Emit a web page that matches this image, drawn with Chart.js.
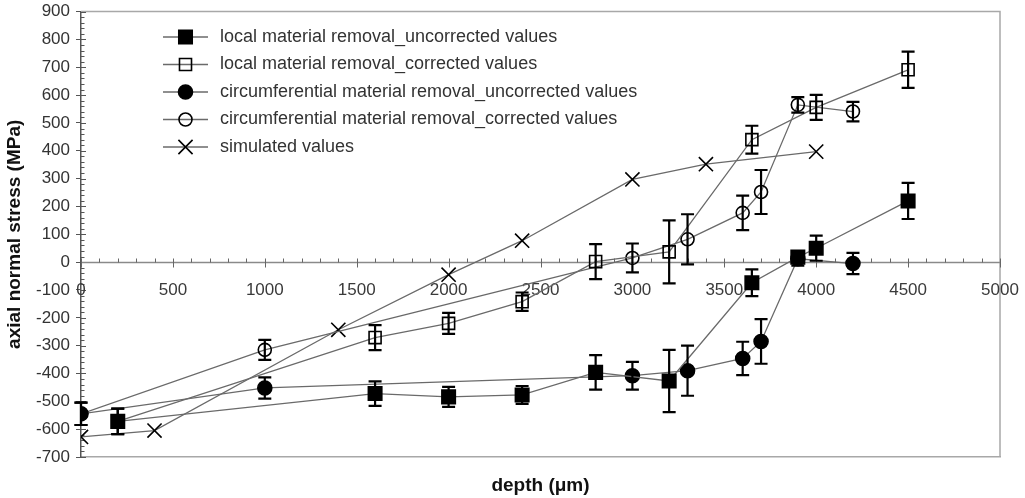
<!DOCTYPE html>
<html lang="en">
<head>
  <meta charset="UTF-8">
  <title>Axial normal stress vs depth</title>
  <script src="https://cdn.jsdelivr.net/npm/chart.js"></script>
  <style>
    body { margin: 0; background: #fff; }
    #wrap { width: 1025px; height: 498px; }
  </style>
</head>
<body>
<div id="wrap"><canvas id="chart" width="1025" height="498"></canvas></div>

<script>
  // ---- data ----
  const localUncDepth  = [200, 1600, 2000, 2400, 2800, 3200, 3650, 3900, 4000, 4500];
  const localUncStress = [-572, -472, -484, -477, -396, -427, -74, 18, 50, 220];
  const localUncErr    = [46, 44, 36, 32, 62, 112, 48, 22, 45, 65];

  const localCorDepth  = [200, 1600, 2000, 2400, 2800, 3200, 3650, 4000, 4500];
  const localCorStress = [-572, -271, -220, -142, 2, 37, 440, 556, 691];
  const localCorErr    = [46, 45, 38, 33, 63, 113, 50, 45, 65];

  const circUncDepth  = [0, 1000, 3000, 3300, 3600, 3700, 3900, 4200];
  const circUncStress = [-545, -452, -408, -390, -346, -285, 12, -5];
  const circUncErr    = [40, 38, 50, 90, 60, 80, 25, 38];

  const circCorDepth  = [0, 1000, 3000, 3300, 3600, 3700, 3900, 4200];
  const circCorStress = [-545, -315, 15, 82, 177, 252, 565, 541];
  const circCorErr    = [40, 36, 52, 90, 62, 79, 28, 35];

  const simDepth  = [0, 400, 1400, 2000, 2400, 3000, 3400, 4000];
  const simStress = [-628, -605, -243, -45, 77, 297, 352, 397];

  const xTickValues = [0, 500, 1000, 1500, 2000, 2500, 3000, 3500, 4000, 4500, 5000];
  const seriesLabels = [
    'local material removal_uncorrected values',
    'local material removal_corrected values',
    'circumferential material removal_uncorrected values',
    'circumferential material removal_corrected values',
    'simulated values'
  ];

  const FONT = '"Liberation Sans", Arial, sans-serif';

  function toPoints(xs, ys) {
    return xs.map((x, i) => ({x: x, y: ys[i]}));
  }

  // marker look per series (legend uses the same)
  const markers = [
    {style: 'rect', radius: 9.5, fill: '#000'},
    {style: 'rect', radius: 8.5, fill: 'rgba(0,0,0,0)'},
    {style: 'circle', radius: 7, fill: '#000'},
    {style: 'circle', radius: 6.5, fill: 'rgba(0,0,0,0)'},
    {style: 'crossRot', radius: 10, fill: 'rgba(0,0,0,0)'}
  ];

  const allData = [
    toPoints(localUncDepth, localUncStress),
    toPoints(localCorDepth, localCorStress),
    toPoints(circUncDepth, circUncStress),
    toPoints(circCorDepth, circCorStress),
    toPoints(simDepth, simStress)
  ];
  const allErr = [localUncErr, localCorErr, circUncErr, circCorErr, null];

  const datasets = allData.map((pts, i) => ({
    label: seriesLabels[i],
    data: pts,
    showLine: true,
    borderColor: '#6a6a6a',
    borderWidth: 1.3,
    pointStyle: markers[i].style,
    pointRadius: markers[i].radius,
    pointHoverRadius: markers[i].radius,
    pointBackgroundColor: markers[i].fill,
    pointBorderColor: '#000',
    pointBorderWidth: 1.6
  }));

  // zero-line axis with ticks and labels, plot frame, y minor ticks
  const axesPlugin = {
    id: 'axesPlugin',
    beforeDatasetsDraw(chart) {
      const {ctx, chartArea: a, scales: {x, y}} = chart;
      ctx.save();
      // frame top / right
      ctx.strokeStyle = '#a8a8a8';
      ctx.lineWidth = 1.5;
      ctx.beginPath();
      ctx.moveTo(a.left, a.top);
      ctx.lineTo(a.right, a.top);
      ctx.lineTo(a.right, a.bottom);
      ctx.stroke();

      // y minor ticks
      ctx.strokeStyle = '#555';
      ctx.lineWidth = 1;
      for (let v = -700; v <= 900; v += 20) {
        const py = Math.round(y.getPixelForValue(v)) + 0.5;
        ctx.beginPath();
        ctx.moveTo(a.left, py);
        ctx.lineTo(a.left + (v % 100 === 0 ? 5 : 3.5), py);
        ctx.stroke();
      }

      // zero line
      const y0 = Math.round(y.getPixelForValue(0)) + 0.5;
      ctx.strokeStyle = '#8a8a8a';
      ctx.lineWidth = 1.5;
      ctx.beginPath();
      ctx.moveTo(a.left, y0);
      ctx.lineTo(a.right, y0);
      ctx.stroke();
      ctx.strokeStyle = '#666';
      ctx.lineWidth = 1;
      for (let v = 0; v <= 5000; v += 100) {
        const px = Math.round(x.getPixelForValue(v)) + 0.5;
        const major = v % 500 === 0;
        ctx.beginPath();
        ctx.moveTo(px, y0 - 4);
        ctx.lineTo(px, major ? y0 + 5 : y0);
        ctx.stroke();
      }
      ctx.fillStyle = '#3a3a3a';
      ctx.font = '17px ' + FONT;
      ctx.textAlign = 'center';
      ctx.textBaseline = 'middle';
      xTickValues.forEach(v => {
        ctx.fillText(String(v), x.getPixelForValue(v), y0 + 28);
      });
      ctx.restore();
    },
    afterDatasetsDraw(chart) {
      const {ctx, scales: {x, y}} = chart;
      ctx.save();
      ctx.strokeStyle = '#000';
      ctx.lineWidth = 2.2;
      allErr.forEach((errs, i) => {
        if (!errs) return;
        allData[i].forEach((p, j) => {
          const px = x.getPixelForValue(p.x);
          const top = y.getPixelForValue(p.y + errs[j]);
          const bot = y.getPixelForValue(p.y - errs[j]);
          ctx.beginPath();
          ctx.moveTo(px, top);
          ctx.lineTo(px, bot);
          ctx.moveTo(px - 6.5, top);
          ctx.lineTo(px + 6.5, top);
          ctx.moveTo(px - 6.5, bot);
          ctx.lineTo(px + 6.5, bot);
          ctx.stroke();
        });
      });
      ctx.restore();
    },
    afterDraw(chart) {
      // legend inside the plot
      const ctx = chart.ctx;
      const lx0 = 163, lx1 = 208, tx = 220, top = 37, step = 27.5;
      ctx.save();
      seriesLabels.forEach((label, i) => {
        const cy = top + i * step;
        ctx.strokeStyle = '#6a6a6a';
        ctx.lineWidth = 1.3;
        ctx.beginPath();
        ctx.moveTo(lx0, cy);
        ctx.lineTo(lx1, cy);
        ctx.stroke();
        drawMarker(ctx, markers[i], (lx0 + lx1) / 2, cy);
        ctx.fillStyle = '#333';
        ctx.font = '18px ' + FONT;
        ctx.textAlign = 'left';
        ctx.textBaseline = 'middle';
        ctx.fillText(label, tx, cy);
      });
      ctx.restore();
    }
  };

  function drawMarker(ctx, m, cx, cy) {
    ctx.save();
    ctx.strokeStyle = '#000';
    ctx.fillStyle = m.fill;
    ctx.lineWidth = 1.6;
    ctx.beginPath();
    if (m.style === 'rect') {
      const s = Math.SQRT1_2 * m.radius;
      ctx.rect(cx - s, cy - s, 2 * s, 2 * s);
      ctx.fill();
      ctx.stroke();
    } else if (m.style === 'circle') {
      ctx.arc(cx, cy, m.radius, 0, Math.PI * 2);
      ctx.fill();
      ctx.stroke();
    } else {
      const s = Math.SQRT1_2 * m.radius;
      ctx.moveTo(cx - s, cy - s);
      ctx.lineTo(cx + s, cy + s);
      ctx.moveTo(cx + s, cy - s);
      ctx.lineTo(cx - s, cy + s);
      ctx.stroke();
    }
    ctx.restore();
  }

  window.addEventListener('DOMContentLoaded', () => {
    const ctx = document.getElementById('chart').getContext('2d');
    new Chart(ctx, {
      type: 'scatter',
      data: {datasets: datasets},
      options: {
        responsive: false,
        animation: false,
        layout: {padding: {top: 0, right: 25, bottom: 0, left: 0}},
        plugins: {
          legend: {display: false},
          tooltip: {enabled: false}
        },
        scales: {
          x: {
            type: 'linear',
            min: 0,
            max: 5000,
            grid: {display: false, drawTicks: false},
            border: {color: '#a8a8a8', width: 1.5},
            ticks: {display: false},
            title: {
              display: true,
              text: 'depth (\u03bcm)',
              color: '#111',
              font: {family: FONT, size: 19, weight: 'bold'},
              padding: {top: 0, bottom: 1}
            },
            afterFit: (scale) => { scale.height = 41; }
          },
          y: {
            type: 'linear',
            min: -700,
            max: 900,
            grid: {drawOnChartArea: false, color: '#555', tickLength: 5},
            border: {color: '#555', width: 1.5},
            ticks: {
              stepSize: 100,
              color: '#333',
              padding: 6,
              font: {family: FONT, size: 17}
            },
            title: {
              display: true,
              text: 'axial normal stress (MPa)',
              color: '#111',
              font: {family: FONT, size: 19, weight: 'bold'},
              padding: {top: 3, bottom: 0}
            },
            afterFit: (scale) => {
              scale.width = 81;
              scale.paddingTop = 10;
              scale.paddingBottom = 0;
            }
          }
        }
      },
      plugins: [axesPlugin]
    });
  });
</script>
</body>
</html>
